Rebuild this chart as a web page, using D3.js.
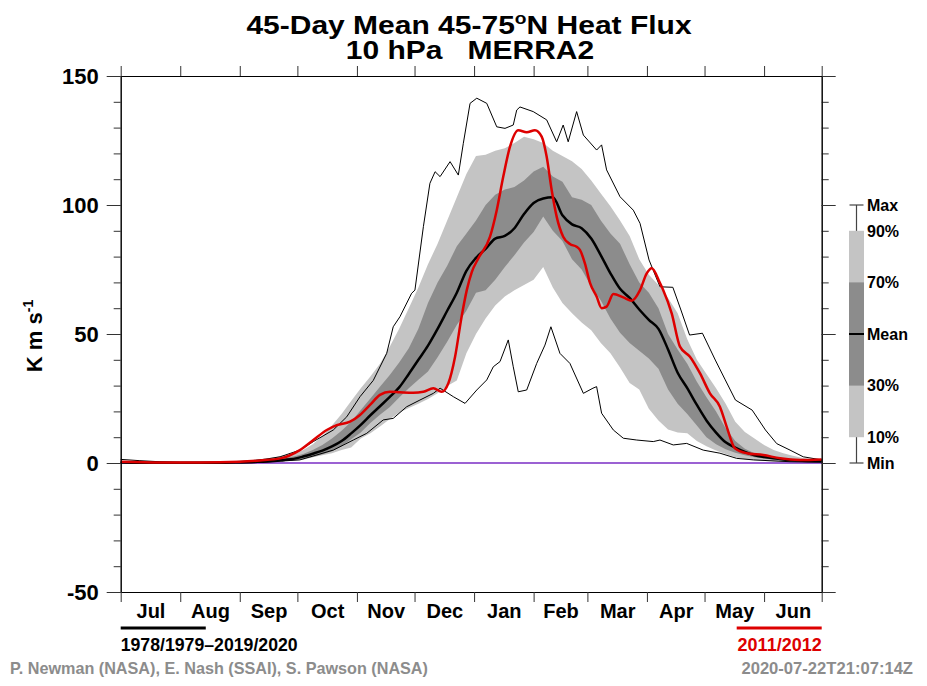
<!DOCTYPE html>
<html>
<head>
<meta charset="utf-8">
<script src="https://cdn.jsdelivr.net/npm/d3@7"></script>
<style>
  body { margin: 0; background: #fff; }
  svg text { font-family: "Liberation Sans", Arial, Helvetica, sans-serif; font-weight: bold; }
</style>
</head>
<body>
<div class="canvas"></div>
<script>
// DATA (days counted from 1 July)
const months = ["Jul","Aug","Sep","Oct","Nov","Dec","Jan","Feb","Mar","Apr","May","Jun"];
const monthStart = [0,31,62,92,123,153,184,215,243,274,304,335,365];

// percentile bands share one day grid
const bandDays = [0,10,20,30,40,50,60,70,80,85,90,95,100,105,110,115,120,125,130,135,140,145,150,155,160,165,170,175,180,185,190,195,200,205,210,215,220,225,230,235,240,245,250,255,260,265,270,275,280,285,290,295,300,305,310,315,320,325,330,335,340,345,350,355,360,365];
const p90 = [0.5,0.3,0.2,0.2,0.2,0.3,0.6,1.2,2.2,3,3.2,5,7.3,10.5,14.5,19,24,29,33.5,38.5,45,52,60,68,77,85,94,103,112,119,119.5,121,122,124,126.5,125.5,124,121,119,117,114,109.5,104.5,99.5,94,88,79,73,69,64,58,48,40,34.5,29,23,16,12,9.5,7,5,3.8,2.8,1.9,1.5,1.3];
const p70 = [0.2,0.1,0.1,0.1,0.1,0.2,0.3,0.6,1.2,1.8,2.5,3.5,5,7,9.5,12.5,16,20.5,25,29.6,34,39,44.5,52,62,70,76.5,84,89,94,100,104,106,107,109.5,113,114.8,111,109,103,102,100,94,89,85,77,70,66,60,50,44,38.5,31.5,25.5,20,13.5,8.5,5.5,3.8,2.8,2.2,1.7,1.3,1,0.9,0.8];
const mean = [0.2,0.1,0.1,0.1,0.1,0.1,0.2,0.4,0.8,1.2,1.6,2.5,3.6,4.8,6.4,8.5,11.5,14.8,18.5,22,25.5,29.3,34.5,40,45.5,52,59,66,74.5,79.5,83,87,88,91,96.5,100.8,102.5,103,96,92.5,91,87,80.5,73.5,67.5,64,59.5,55.5,52,44,35,29,22.5,16.5,11.8,8,6,4.3,3,2.3,1.8,1.4,1.1,0.9,0.8,0.8];
const p30 = [0.1,0.05,0.05,0.05,0.05,0.1,0.2,0.3,0.5,0.8,1.1,1.6,2.3,3.4,4.6,6.5,9.2,11.8,15.5,18.7,21.6,25.4,29,32.3,35.5,41,47,53.5,59,66,67,71,76,80.5,85.5,89.5,95.5,90,86,79,75,68.5,63,56,50.5,46.5,43.5,40.5,36.5,28.5,23,19,14.5,10,7.3,5.3,4,3,2.2,1.7,1.3,1,0.8,0.6,0.5,0.5];
const p10 = [0.05,0,0,0,0,0.05,0.1,0.2,0.4,0.6,0.9,1.3,2.2,3,3.8,5,6,9.5,11.5,14.1,17,19.5,21.3,23,24.8,27,29.8,32,42.5,50,56,61,64.5,67,69,71,76,68,62,58,54.5,51.5,46.5,42.5,37,31,28.5,21,16.5,13,11.8,11.5,8.5,6.5,4.8,3.5,2.2,1.5,1.1,0.8,0.6,0.5,0.4,0.4,0.3,0.3];

// extremes
const maxDays = [0,10,20,31,52,67,75.6,83,93.3,100.3,110.7,117.7,124.6,131.5,138.5,141.9,145.4,151.5,153.2,157.6,161,163.7,166.3,171.5,175.8,178.4,181.9,185.4,190.6,195.8,200.1,204.4,206.2,207.9,214.8,221.8,227,230.4,233,237.4,240.9,247.8,250.4,253,260,266.9,270.4,275.1,280.8,287.5,291.7,296.2,302.9,309.6,314.8,320.1,328.8,335.7,341.6,348.5,355.4,365];
const maxVals = [1.4,0.9,0.5,0.2,0.3,0.8,1.5,2.4,5,8.3,12.8,17.9,25.7,32,42.5,52.8,56.7,65.8,67,91.6,108.4,112.9,111,116.8,111.6,123.9,139.4,141.4,139.4,130.3,129.7,131,136.8,138,136.2,133,124.5,131,124.5,136.2,127.1,121.3,123.3,113.6,103.2,98,92.9,78.7,68.3,68.1,59.3,49.6,50.3,39.9,32.2,24.4,20.5,12.8,7.5,5,2.4,1.2];
const minDays = [0,41.3,72.5,93.3,110.7,121.1,128.1,136.7,141.9,148.9,155.8,162.8,166.3,173.2,179.3,185.4,190.6,194,197.5,201.8,204.4,207,211.4,216.6,220.9,224,228.7,233.9,240.9,245.9,247.8,250.4,256.5,261.7,268.7,277.3,280.8,287.7,294.7,303.3,312,320.7,329.4,348.5,365];
const minVals = [0.3,0.1,0.3,1.2,5,8.9,11.5,16.7,17.3,21.8,24.4,27,29,25.7,23.1,28.3,32.2,37.3,39.3,47.7,37.3,27.6,28.3,38.6,45.7,52.8,42.5,38.6,27,29,29.6,19.3,12.8,9.6,8.9,8.3,8.9,7,7.6,5,3.8,1.8,1.2,0.5,0.3];

// 2011/2012
const yearDays = [0,20.5,41.3,62.1,72.5,83,93.3,100.3,107.3,112.5,119.4,124.6,129.8,135,140.2,145.4,152.3,157.6,162.8,167.1,170.6,174.1,177.5,180.2,182.8,186.2,192.3,195.8,199.2,202.7,207,211.4,215.7,219.2,221.8,224.4,227,230.4,233.9,237.4,239.1,241.7,244.4,247.8,250.4,253,256.5,261.7,266.1,270.4,273.9,276.5,280.8,282.5,286.9,291.2,296.4,301.6,306.8,312,315.5,319.8,325.9,334.6,343.3,353.7,365];
const yearVals = [0.5,0.2,0.2,0.5,1,1.8,5,8.9,12.8,14.7,16,18.6,22.5,26.4,27.6,27.4,27.2,27.6,29,27.6,30.9,41.2,56.7,67,74,79.3,87.7,98,111,122.6,129,128.2,129,126.5,118.7,105.8,95.5,87.7,84.9,83.8,82.6,77.4,69.7,64.5,60,60.6,65.5,64.2,62.9,67,73.5,75.5,69.7,67,58,45.1,41.2,34.8,27,21.8,14.1,5.7,3.8,3.1,1.8,1.2,1.4];

const yMajor = [-50,0,50,100,150];
const legendLabels = ["Max","90%","70%","Mean","30%","10%","Min"];
const legendLevels = [100,90,70,50,30,10,0];

// DIMENSIONS
const W = 927, H = 686;
const plot = {left:120.7, right:821.7, top:76, bottom:592};

const svg = d3.select(".canvas").append("svg")
  .attr("width", W).attr("height", H);

// SCALES
const x = d3.scaleLinear().domain([0,365]).range([plot.left, plot.right]);
const y = d3.scaleLinear().domain([-50,150]).range([plot.bottom, plot.top]);

// BANDS
const bands = bandDays.map((d,i) => ({d, p90:p90[i], p70:p70[i], p30:p30[i], p10:p10[i], m:mean[i]}));
const area = (lo, hi) => d3.area().x(b => x(b.d)).y0(b => y(b[lo])).y1(b => y(b[hi]));

svg.append("path").datum(bands).attr("d", area("p10","p90")).attr("fill", "#c4c4c4");
svg.append("path").datum(bands).attr("d", area("p30","p70")).attr("fill", "#8c8c8c");

// zero line
svg.append("line")
  .attr("x1", plot.left).attr("x2", plot.right)
  .attr("y1", y(0)).attr("y2", y(0))
  .attr("stroke", "#7a2cc4").attr("stroke-width", 1.5);

// LINES
const line = d3.line().x(p => x(p[0])).y(p => y(p[1]));
const zip = (a, b) => a.map((v,i) => [v, b[i]]);

svg.append("path").datum(zip(maxDays, maxVals)).attr("d", line)
  .attr("fill", "none").attr("stroke", "#000").attr("stroke-width", 1);
svg.append("path").datum(zip(minDays, minVals)).attr("d", line)
  .attr("fill", "none").attr("stroke", "#000").attr("stroke-width", 1);
svg.append("path").datum(zip(bandDays, mean)).attr("d", line.curve(d3.curveMonotoneX))
  .attr("fill", "none").attr("stroke", "#000").attr("stroke-width", 2.5);
svg.append("path").datum(zip(yearDays, yearVals)).attr("d", line.curve(d3.curveMonotoneX))
  .attr("fill", "none").attr("stroke", "#dd0000").attr("stroke-width", 2.5);

// AXES
const minor = d3.range(-50, 151, 10);
const styleAxis = g => {
  g.selectAll("path.domain").attr("stroke", "#000");
  g.selectAll(".tick line").attr("stroke", "#333");
};

svg.append("g").attr("transform", `translate(${plot.left},0)`)
  .call(d3.axisLeft(y).tickValues(minor).tickSize(7).tickSizeOuter(0).tickFormat(""))
  .call(styleAxis);
svg.append("g").attr("transform", `translate(${plot.left},0)`)
  .call(d3.axisLeft(y).tickValues(yMajor).tickSize(14).tickSizeOuter(0).tickPadding(8)
    .tickFormat(d => String(d)))
  .call(styleAxis)
  .selectAll("text").attr("font-size", 22).attr("fill", "#000");

svg.append("g").attr("transform", `translate(${plot.right},0)`)
  .call(d3.axisRight(y).tickValues(minor).tickSize(7).tickSizeOuter(0).tickFormat(""))
  .call(styleAxis);
svg.append("g").attr("transform", `translate(${plot.right},0)`)
  .call(d3.axisRight(y).tickValues(yMajor).tickSize(14).tickSizeOuter(0).tickFormat(""))
  .call(styleAxis);

svg.append("g").attr("transform", `translate(0,${plot.top})`)
  .call(d3.axisTop(x).tickValues(monthStart).tickSize(10).tickSizeOuter(0).tickFormat(""))
  .call(styleAxis);
svg.append("g").attr("transform", `translate(0,${plot.bottom})`)
  .call(d3.axisBottom(x).tickValues(monthStart).tickSize(10).tickSizeOuter(0).tickFormat(""))
  .call(styleAxis);

// month names centred in each month
const monthMid = months.map((m,i) => (monthStart[i] + monthStart[i+1]) / 2);
const monthAxis = svg.append("g").attr("transform", `translate(0,${plot.bottom})`)
  .call(d3.axisBottom(x).tickValues(monthMid).tickSize(0).tickPadding(12)
    .tickFormat((d,i) => months[i]));
monthAxis.select(".domain").remove();
monthAxis.selectAll("text").attr("font-size", 20).attr("fill", "#000");

// TITLE (glyphs in the original are wider than Liberation, so stretch horizontally)
const t1 = svg.append("g").attr("transform", "translate(469,34) scale(1.2,1)")
  .append("text").attr("text-anchor", "middle").attr("font-size", 25);
t1.append("tspan").text("45-Day Mean 45-75");
t1.append("tspan").attr("font-size", 16).attr("dy", -10).text("o");
t1.append("tspan").attr("dy", 10).text("N Heat Flux");
svg.append("g").attr("transform", "translate(470,59) scale(1.2,1)")
  .append("text").attr("text-anchor", "middle").attr("font-size", 25)
  .style("white-space", "pre").text("10 hPa   MERRA2");

// Y LABEL
const ylab = svg.append("text")
  .attr("transform", `translate(42,336) rotate(-90)`)
  .attr("text-anchor", "middle").attr("font-size", 22);
ylab.append("tspan").text("K m s");
ylab.append("tspan").attr("font-size", 14).attr("dy", -9).text("-1");

// LEGEND
const lg = svg.append("g");
const lx = 856.5;
lg.append("line").attr("x1", lx).attr("x2", lx)
  .attr("y1", y(legendLevels[0])).attr("y2", y(legendLevels[6]))
  .attr("stroke", "#444").attr("stroke-width", 1.2);
[legendLevels[0], legendLevels[6]].forEach(v => {
  lg.append("line").attr("x1", lx - 7).attr("x2", lx + 7)
    .attr("y1", y(v)).attr("y2", y(v)).attr("stroke", "#444").attr("stroke-width", 1.2);
});
lg.append("rect").attr("x", lx - 7.5).attr("width", 15)
  .attr("y", y(legendLevels[1])).attr("height", y(legendLevels[5]) - y(legendLevels[1]))
  .attr("fill", "#c4c4c4");
lg.append("rect").attr("x", lx - 7.5).attr("width", 15)
  .attr("y", y(legendLevels[2])).attr("height", y(legendLevels[4]) - y(legendLevels[2]))
  .attr("fill", "#8c8c8c");
lg.append("line").attr("x1", lx - 7.5).attr("x2", lx + 7.5)
  .attr("y1", y(legendLevels[3])).attr("y2", y(legendLevels[3]))
  .attr("stroke", "#000").attr("stroke-width", 2);
lg.selectAll("text.lbl").data(legendLabels).enter().append("text")
  .attr("class", "lbl")
  .attr("x", 867).attr("y", (d,i) => y(legendLevels[i]))
  .attr("dy", "0.36em").attr("font-size", 16).text(d => d);

// BOTTOM KEYS
svg.append("line").attr("x1", plot.left).attr("x2", x(monthStart[2]) - 34)
  .attr("y1", 628).attr("y2", 628).attr("stroke", "#000").attr("stroke-width", 3);
svg.append("text").attr("x", plot.left).attr("y", 651).attr("font-size", 18)
  .attr("textLength", 177).attr("lengthAdjust", "spacingAndGlyphs")
  .text("1978/1979\u20132019/2020");
svg.append("line").attr("x1", plot.right - 85).attr("x2", plot.right)
  .attr("y1", 628).attr("y2", 628).attr("stroke", "#dd0000").attr("stroke-width", 3);
svg.append("text").attr("x", plot.right).attr("y", 651).attr("font-size", 18)
  .attr("text-anchor", "end").attr("fill", "#dd0000").text("2011/2012");

svg.append("text").attr("x", 10).attr("y", 674).attr("font-size", 16.2).attr("fill", "#8c8c8c")
  .text("P. Newman (NASA), E. Nash (SSAI), S. Pawson (NASA)");
svg.append("text").attr("x", 913).attr("y", 674).attr("font-size", 16.6).attr("fill", "#8c8c8c")
  .attr("text-anchor", "end").text("2020-07-22T21:07:14Z");
</script>
</body>
</html>
